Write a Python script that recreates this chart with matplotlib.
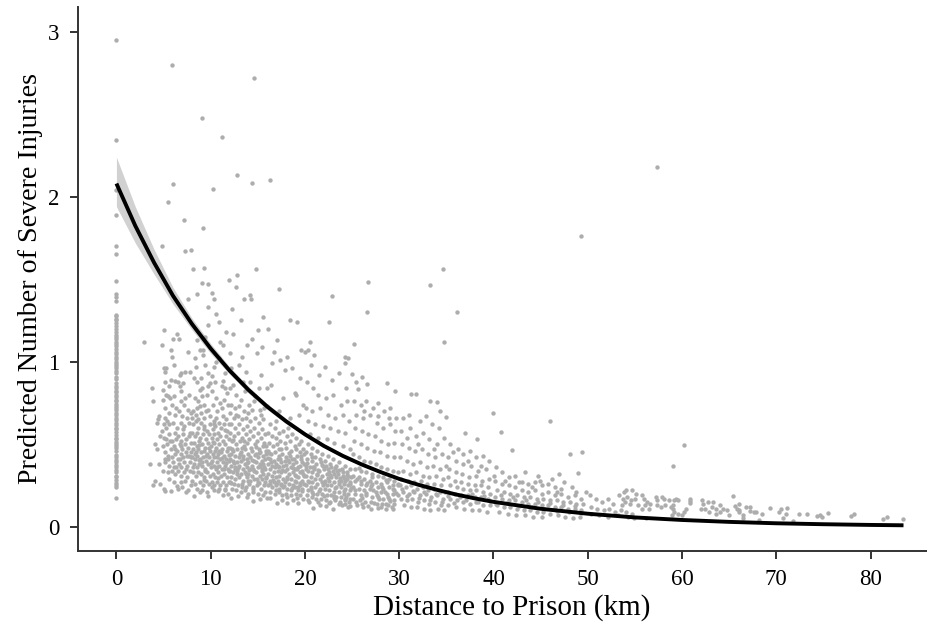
import numpy as np
import matplotlib as mpl
mpl.use('Agg')
import matplotlib.pyplot as plt

plt.rcParams["font.family"] = "Liberation Serif"

# fitted curve and its interval
curve_x = [0, 2, 4, 6, 8, 10, 12, 14, 16, 18, 20, 22, 24, 26, 28, 30, 32, 34, 36, 38, 40, 45, 50, 55, 60, 65, 70, 75, 80, 83.5]
curve_y = [2.08, 1.824, 1.60, 1.40, 1.23, 1.08, .947, .83, .728, .639, .56, .49, .43, .378, .332, .29, .255, .224, .196, .172, .151, .109, .079, .0565, .041, .0295, .021, .0153, .011, .0088]
ci_lo = [1.94, 1.72, 1.53, 1.35, 1.195, 1.05, .925, .81, .71, .625, .55, .48, .42, .37, .325, .285, .25, .22, .192, .168, .148, .106, .077, .055, .04, .029, .02, .015, .01, .008]
ci_hi = [2.24, 1.94, 1.68, 1.45, 1.265, 1.11, .97, .85, .745, .655, .575, .50, .44, .386, .34, .296, .26, .228, .20, .176, .154, .112, .081, .058, .042, .03, .022, .016, .012, .0095]

# points sitting on distance zero
zero_y = [2.95, 2.345, 2.04, 1.89, 1.70, 1.65, 1.49, 1.41, 1.39, 1.37, 1.285, 1.275, 1.26, 1.25, 1.235, 1.215, 1.20,
          1.18, 1.165, 1.15, 1.135, 1.12, 1.11, 1.095, 1.08, 1.06, 1.045, 1.03, 1.015, 1.0, .985, .975, .96, .945,
          .93, .91, .895, .87, .855, .84, .825, .815, .80, .785, .77, .76, .745, .73, .72, .705, .69, .675, .66,
          .645, .63, .615, .60, .59, .575, .555, .54, .53, .515, .50, .49, .475, .46, .435, .42, .405, .39, .375,
          .36, .345, .33, .31, .30, .285, .265, .25, .24, .176]

# scatter by distance band, flat x, y pairs
band_03_08 = [2.96,1.12, 5.0,1.19, 6.4,1.17, 6.0,1.14, 6.6,1.14, 4.8,1.10, 5.8,1.07, 7.6,1.06, 5.9,1.03, 6.1,.98,
    5.0,.96, 5.3,.96, 5.15,.94, 6.8,.93, 7.3,.94, 7.8,.94, 6.7,.92, 5.15,.88, 5.8,.89, 6.2,.885, 6.5,.88, 7.1,.87,
    5.6,.85, 6.7,.85, 6.9,.82, 3.8,.84, 4.9,.83, 3.9,.76, 4.9,.77, 5.3,.80, 5.5,.79, 5.7,.78, 6.1,.79, 7.3,.78,
    7.7,.80, 5.2,.72, 5.9,.74, 6.3,.72, 6.8,.76, 7.2,.74, 7.6,.71, 5.6,.69, 6.2,.68, 6.6,.70, 7.0,.67, 7.5,.66, 7.9,.69,
    4.5,.67, 4.4,.65, 4.3,.63, 5.1,.66, 5.4,.64, 5.0,.62, 5.3,.60, 5.6,.62, 6.0,.63, 6.4,.60, 6.9,.63, 7.2,.61, 7.7,.63,
    4.8,.58, 4.6,.55, 4.1,.50, 4.3,.47, 5.0,.54, 5.3,.53, 5.6,.56, 5.9,.52, 6.2,.57, 6.5,.55, 6.8,.52, 7.1,.56, 7.4,.53, 7.8,.57,
    4.9,.49, 5.4,.50, 5.8,.47, 6.1,.49, 6.4,.46, 6.7,.50, 7.0,.47, 7.3,.50, 7.6,.48, 7.9,.51,
    5.2,.45, 5.5,.43, 5.1,.41, 5.9,.42, 6.2,.44, 6.5,.41, 6.8,.44, 7.1,.42, 7.4,.45, 7.7,.43, 7.9,.45,
    3.56,.38, 4.5,.38, 5.2,.39, 5.6,.37, 6.0,.39, 6.3,.36, 6.6,.38, 6.9,.36, 7.2,.39, 7.5,.37, 7.8,.39,
    4.9,.34, 5.5,.33, 5.9,.34, 6.2,.32, 6.5,.34, 6.9,.31, 7.2,.33, 7.5,.30, 7.8,.34,
    5.6,.29, 4.1,.275, 3.9,.255, 4.6,.26, 5.05,.23, 5.15,.215, 5.8,.215, 6.45,.245, 6.55,.23, 7.3,.275, 7.6,.225, 6.1,.27, 6.8,.27, 7.0,.24, 7.9,.25, 7.4,.21]

band_08_12 = [8.3,1.02, 8.9,1.07, 9.2,1.07, 9.2,1.04, 8.4,.97, 9.4,.98, 10.35,.97, 9.75,.93, 10.1,.915, 8.87,.83, 9.05,.84, 9.75,.85,
    9.93,.87, 10.46,.88, 11.27,.885, 11.17,.85, 11.5,.84, 11.7,.81, 8.2,.9, 8.6,.88, 9.0,.9, 8.3,.78, 8.7,.76, 9.1,.79, 9.6,.8,
    10.1,.82, 10.6,.78, 11.0,.75, 11.4,.77, 8.1,.70, 8.5,.72, 8.9,.73, 9.3,.74, 9.7,.71, 10.2,.74, 10.7,.70, 11.2,.72, 11.8,.74,
    8.0,.66, 8.4,.68, 8.7,.65, 9.0,.69, 9.3,.66, 9.5,.70, 9.9,.67, 10.3,.64, 10.6,.66, 10.9,.63, 11.3,.67, 11.6,.65, 11.9,.62,
    8.1,.62, 8.4,.64, 8.7,.60, 9.0,.63, 9.3,.61, 9.6,.58, 9.9,.62, 10.2,.59, 10.5,.61, 10.8,.57, 11.1,.60, 11.4,.62, 11.7,.58,
    8.0,.57, 8.3,.55, 8.6,.57, 8.9,.54, 9.2,.56, 9.5,.53, 9.8,.56, 10.1,.54, 10.4,.56, 10.7,.53, 11.0,.55, 11.3,.52, 11.6,.55, 11.9,.53,
    8.2,.51, 8.5,.49, 8.8,.52, 9.1,.50, 9.4,.48, 9.7,.51, 10.0,.49, 10.3,.51, 10.6,.48, 10.9,.50, 11.2,.47, 11.5,.50, 11.8,.48,
    8.1,.47, 8.4,.45, 8.7,.47, 9.0,.45, 9.3,.46, 9.6,.44, 9.9,.46, 10.2,.44, 10.5,.46, 10.8,.44, 11.1,.45, 11.4,.43, 11.7,.46,
    8.0,.42, 8.3,.41, 8.6,.43, 8.9,.41, 9.2,.42, 9.5,.40, 9.8,.42, 10.1,.40, 10.4,.42, 10.7,.39, 11.0,.41, 11.3,.39, 11.6,.41, 11.9,.40,
    8.2,.38, 8.5,.36, 8.8,.38, 9.1,.37, 9.4,.35, 9.7,.38, 10.0,.36, 10.3,.37, 10.6,.35, 10.9,.37, 11.2,.35, 11.5,.37, 11.8,.35,
    8.1,.33, 8.4,.31, 8.7,.33, 9.0,.32, 9.3,.30, 9.6,.33, 9.9,.31, 10.2,.32, 10.5,.30, 10.8,.33, 11.1,.31, 11.4,.32, 11.7,.30,
    8.0,.28, 8.3,.26, 8.9,.27, 9.2,.25, 9.5,.28, 9.8,.26, 10.1,.27, 10.4,.25, 10.7,.27, 11.0,.25, 11.3,.27, 11.6,.25, 11.9,.27,
    8.23,.184, 8.87,.208, 9.75,.184, 10.8,.215, 11.35,.194, 8.6,.23, 9.1,.22, 9.6,.21, 10.3,.22, 10.9,.23, 11.5,.22, 11.8,.20]

band_12_16 = [12.05,.84, 12.4,.86, 12.7,.80, 13.2,.77, 13.6,.82, 14.1,.74, 14.6,.76, 15.2,.71, 15.7,.72,
    12.2,.74, 12.6,.72, 13.0,.73, 13.5,.70, 14.0,.69, 14.4,.71, 12.1,.69, 12.5,.66, 12.9,.67, 13.3,.65, 13.7,.66, 14.2,.64, 14.7,.66, 15.1,.63, 15.6,.65,
    12.2,.62, 12.6,.60, 13.0,.62, 13.4,.59, 13.8,.61, 14.2,.58, 14.6,.60, 15.0,.57, 15.4,.59, 15.8,.56,
    12.1,.57, 12.5,.55, 12.9,.57, 13.3,.54, 13.7,.56, 14.1,.53, 14.5,.55, 14.9,.52, 15.3,.54, 15.7,.51,
    12.3,.52, 12.7,.50, 13.1,.52, 13.5,.49, 13.9,.51, 14.3,.48, 14.7,.50, 15.1,.47, 15.5,.49, 15.9,.46,
    12.1,.48, 12.4,.46, 12.8,.47, 13.2,.45, 13.6,.47, 14.0,.44, 14.4,.46, 14.8,.44, 15.2,.45, 15.6,.43, 15.9,.44,
    12.2,.44, 12.6,.43, 13.0,.42, 13.4,.43, 13.8,.41, 14.2,.42, 14.6,.40, 15.0,.42, 15.4,.40, 15.8,.41,
    12.0,.41, 12.4,.40, 12.8,.39, 13.2,.40, 13.6,.38, 14.0,.39, 14.4,.37, 14.8,.39, 15.2,.37, 15.6,.38,
    12.2,.37, 12.6,.36, 13.0,.37, 13.4,.35, 13.8,.36, 14.2,.35, 14.6,.34, 15.0,.36, 15.4,.34, 15.8,.35,
    12.0,.34, 12.4,.33, 12.8,.34, 13.2,.32, 13.6,.33, 14.0,.32, 14.4,.31, 14.8,.33, 15.2,.31, 15.6,.32, 15.9,.30,
    12.2,.30, 12.6,.29, 13.0,.30, 13.4,.28, 13.8,.30, 14.2,.28, 14.6,.29, 15.0,.27, 15.4,.29, 15.8,.27,
    12.1,.27, 12.5,.26, 12.9,.25, 13.3,.26, 13.7,.24, 14.1,.26, 14.5,.24, 14.9,.25, 15.3,.23, 15.7,.25,
    12.3,.23, 12.7,.22, 13.2,.21, 13.6,.22, 14.0,.20, 14.5,.21, 15.0,.20, 15.6,.194, 12.2,.174, 12.94,.184, 14.5,.154, 13.8,.18, 15.2,.17, 16.0,.174]

band_16_20 = [16.3,.62, 16.8,.60, 17.2,.57, 17.7,.58, 18.1,.55, 18.6,.56, 19.1,.54, 19.6,.52, 16.1,.57, 16.5,.55, 16.9,.54, 17.4,.52, 17.9,.51, 18.4,.52, 18.9,.49, 19.4,.50, 19.8,.47,
    16.2,.51, 16.6,.49, 17.0,.50, 17.5,.47, 18.0,.48, 18.5,.46, 19.0,.47, 19.5,.45, 19.9,.44,
    16.1,.46, 16.4,.44, 16.8,.45, 17.2,.43, 17.6,.44, 18.0,.42, 18.4,.43, 18.8,.41, 19.2,.43, 19.6,.41,
    16.3,.41, 16.7,.40, 17.1,.41, 17.5,.39, 17.9,.40, 18.3,.39, 18.7,.38, 19.1,.39, 19.5,.37, 19.9,.38,
    16.1,.38, 16.5,.37, 16.9,.38, 17.3,.36, 17.7,.37, 18.1,.35, 18.5,.36, 18.9,.35, 19.3,.36, 19.7,.34,
    16.3,.35, 16.7,.33, 17.1,.34, 17.5,.33, 17.9,.34, 18.3,.32, 18.7,.33, 19.1,.31, 19.5,.33, 19.9,.31,
    16.1,.32, 16.5,.31, 16.9,.30, 17.3,.31, 17.7,.29, 18.1,.30, 18.5,.29, 18.9,.28, 19.3,.30, 19.7,.28,
    16.3,.28, 16.7,.27, 17.1,.28, 17.5,.26, 17.9,.27, 18.3,.26, 18.7,.25, 19.1,.27, 19.5,.25, 19.9,.26,
    16.1,.25, 16.5,.24, 16.9,.25, 17.3,.23, 17.7,.24, 18.1,.23, 18.5,.22, 18.9,.24, 19.3,.22, 19.7,.23,
    16.3,.21, 16.8,.20, 17.2,.21, 17.6,.19, 18.0,.20, 18.5,.19, 19.0,.20, 19.5,.19, 16.3,.174, 17.0,.144, 18.1,.144, 19.3,.144, 17.6,.16, 18.7,.165, 19.8,.17]

band_20_25 = [20.3,.50, 20.8,.48, 21.3,.46, 21.8,.44, 22.4,.43, 23.0,.41, 23.6,.39, 24.2,.37, 24.8,.35, 20.1,.45, 20.6,.44, 21.1,.42, 21.6,.41, 22.1,.40, 22.7,.38, 23.3,.37, 23.9,.35, 24.5,.33,
    20.2,.41, 20.7,.40, 21.2,.38, 21.7,.39, 22.2,.37, 22.8,.36, 23.4,.34, 24.0,.33, 24.6,.31,
    20.1,.37, 20.5,.36, 21.0,.36, 21.5,.34, 22.0,.35, 22.5,.33, 23.0,.34, 23.5,.32, 24.0,.31, 24.5,.29, 24.9,.30,
    20.3,.34, 20.8,.33, 21.3,.32, 21.8,.31, 22.3,.32, 22.8,.30, 23.3,.30, 23.8,.28, 24.3,.28, 24.8,.27,
    20.1,.31, 20.6,.30, 21.1,.29, 21.6,.29, 22.1,.28, 22.6,.28, 23.1,.27, 23.6,.26, 24.1,.26, 24.6,.25,
    20.3,.28, 20.8,.27, 21.3,.26, 21.8,.27, 22.3,.25, 22.8,.25, 23.3,.24, 23.8,.24, 24.3,.23, 24.8,.22,
    20.1,.25, 20.6,.24, 21.1,.24, 21.6,.23, 22.1,.23, 22.6,.22, 23.1,.21, 23.6,.21, 24.1,.20, 24.6,.20,
    20.3,.22, 20.8,.21, 21.3,.20, 21.8,.20, 22.3,.19, 22.8,.19, 23.3,.18, 23.8,.18, 24.3,.17, 24.8,.17,
    20.2,.19, 20.7,.18, 21.2,.17, 21.7,.17, 22.2,.16, 22.7,.15, 23.2,.16, 23.7,.15, 24.2,.14, 24.7,.15,
    20.9,.113, 22.95,.108, 21.6,.134, 23.9,.13, 20.4,.15, 22.2,.125, 24.6,.12,
    # above the curve
    20.3,1.07, 21.0,1.04, 20.0,1.06, 20.6,.98, 21.5,.92, 22.1,.97, 22.9,.89, 23.6,.93, 24.4,.84, 20.2,.88, 20.9,.84, 21.4,.80, 22.2,.78, 23.0,.80, 23.8,.74, 24.5,.76,
    20.1,.72, 20.8,.70, 21.6,.72, 22.4,.68, 23.2,.66, 24.0,.68, 24.7,.64, 20.3,.64, 21.1,.62, 21.9,.61, 22.7,.60, 23.5,.58, 24.3,.57, 20.5,.56, 21.4,.54, 22.3,.53, 23.1,.51, 24.0,.49, 24.8,.47]

band_25_30 = [25.2,1.107, 24.6,1.022, 24.2,1.028, 24.2,.992, 25.0,.923, 26.1,.907, 25.4,.879, 26.6,.867, 25.6,.836, 28.7,.87, 29.6,.824,
    25.2,.76, 25.9,.74, 26.5,.76, 27.2,.72, 27.8,.75, 28.4,.70, 29.0,.72, 25.4,.68, 26.2,.66, 26.9,.68, 27.6,.63, 28.3,.60, 29.0,.62, 29.6,.58,
    25.3,.60, 26.0,.58, 26.7,.56, 27.4,.55, 28.1,.52, 28.8,.50, 29.5,.51, 25.2,.52, 25.9,.50, 26.6,.48, 27.3,.46, 28.0,.45, 28.7,.43, 29.4,.42,
    25.1,.44, 25.7,.42, 26.3,.40, 26.9,.39, 27.5,.38, 28.1,.36, 28.7,.35, 29.3,.34, 29.9,.33,
    25.3,.35, 25.9,.34, 26.5,.33, 27.1,.32, 27.7,.31, 28.3,.30, 28.9,.29, 29.5,.28, 25.1,.31, 25.7,.30, 26.3,.29, 26.9,.28, 27.5,.27, 28.1,.26, 28.7,.27, 29.3,.25, 29.9,.25,
    25.3,.28, 25.9,.26, 26.5,.25, 27.1,.26, 27.7,.24, 28.3,.23, 28.9,.24, 29.5,.22, 25.1,.24, 25.7,.23, 26.3,.22, 26.9,.23, 27.5,.21, 28.1,.21, 28.7,.20, 29.3,.20, 29.9,.19,
    25.3,.20, 25.9,.19, 26.5,.19, 27.1,.18, 27.7,.18, 28.3,.17, 28.9,.17, 29.5,.16, 25.1,.17, 25.8,.16, 26.4,.15, 27.0,.15, 27.6,.14, 28.2,.14, 28.8,.13, 29.4,.14,
    25.5,.13, 26.2,.12, 27.0,.11, 27.8,.115, 28.6,.105, 29.3,.11]

band_30_35 = [31.3,.806, 31.8,.806, 33.3,.76, 34.05,.756, 34.3,.703, 35.0,.668, 30.4,.66, 31.0,.68, 32.2,.64, 32.8,.67, 33.5,.62, 34.2,.60, 30.2,.58, 31.1,.60, 31.8,.55, 32.5,.57, 33.2,.53, 34.0,.50, 34.7,.54,
    30.3,.50, 31.0,.48, 31.7,.46, 32.4,.47, 33.1,.44, 33.8,.42, 34.5,.44, 30.1,.42, 30.8,.40, 31.5,.38, 32.2,.39, 32.9,.36, 33.6,.37, 34.3,.35, 35.0,.37,
    30.4,.34, 31.1,.32, 31.8,.33, 32.5,.31, 33.2,.30, 33.9,.31, 34.6,.29, 30.2,.29, 30.9,.28, 31.6,.27, 32.3,.28, 33.0,.26, 33.7,.26, 34.4,.25,
    30.1,.25, 30.7,.24, 31.3,.25, 31.9,.23, 32.5,.24, 33.1,.22, 33.7,.23, 34.3,.21, 34.9,.21,
    30.4,.21, 31.0,.20, 31.6,.21, 32.2,.19, 32.8,.20, 33.4,.18, 34.0,.19, 34.6,.17, 30.2,.17, 30.8,.16, 31.4,.17, 32.0,.15, 32.6,.16, 33.2,.14, 33.8,.15, 34.4,.13,
    30.5,.13, 31.2,.12, 31.9,.12, 32.6,.11, 33.3,.10, 34.1,.11, 34.8,.10]

band_35_40 = [37.0,.566, 38.3,.533, 35.4,.50, 36.2,.47, 36.8,.44, 37.5,.46, 38.2,.42, 38.9,.43, 39.5,.40, 35.2,.42, 36.0,.40, 36.8,.38, 37.6,.37, 38.4,.34, 39.2,.35,
    35.3,.35, 36.0,.33, 36.7,.32, 37.4,.30, 38.1,.31, 38.8,.28, 39.5,.29, 35.2,.30, 35.9,.28, 36.6,.27, 37.3,.26, 38.0,.25, 38.7,.25, 39.4,.24,
    35.4,.25, 36.1,.24, 36.8,.23, 37.5,.22, 38.2,.22, 38.9,.21, 39.6,.20, 35.2,.21, 35.9,.20, 36.6,.19, 37.3,.19, 38.0,.18, 38.7,.18, 39.4,.17,
    35.4,.17, 36.1,.16, 36.8,.15, 37.5,.14, 38.2,.15, 38.9,.13, 39.6,.13, 35.2,.13, 36.0,.12, 36.9,.11, 37.7,.10, 38.5,.10, 39.3,.09]

band_40_50 = [39.9,.687, 46.0,.638, 40.8,.576, 42.0,.467, 48.1,.438, 49.4,.453, 49.0,.325, 47.0,.321, 40.3,.36, 40.9,.33, 41.6,.30, 42.3,.31, 43.0,.27, 43.7,.26, 44.4,.27, 45.1,.25, 45.8,.26, 46.5,.24, 47.2,.23,
    40.2,.28, 40.9,.26, 41.6,.25, 42.3,.24, 43.0,.22, 43.7,.21, 44.4,.22, 45.1,.20, 45.8,.21, 46.5,.19, 47.2,.20, 47.9,.18, 48.6,.19, 49.3,.17,
    40.4,.22, 41.1,.21, 41.8,.20, 42.5,.19, 43.2,.18, 43.9,.18, 44.6,.17, 45.3,.17, 46.0,.16, 46.7,.16, 47.4,.15, 48.1,.15, 48.8,.14, 49.5,.14,
    40.2,.18, 40.9,.17, 41.6,.16, 42.3,.16, 43.0,.15, 43.7,.14, 44.4,.14, 45.1,.13, 45.8,.13, 46.5,.12, 47.2,.12, 47.9,.11, 48.6,.11, 49.3,.10,
    40.4,.13, 41.1,.12, 41.8,.12, 42.5,.11, 43.2,.10, 43.9,.10, 44.6,.09, 45.3,.09, 46.0,.08, 46.8,.07, 47.6,.06, 48.4,.05, 49.2,.06,
    40.6,.09, 41.5,.08, 42.4,.07, 43.3,.07, 44.2,.06, 45.2,.06, 49.8,.21, 48.3,.24, 47.5,.27, 46.2,.29, 44.7,.31]

band_50_60 = [50.2,.19, 50.9,.17, 51.5,.15, 52.1,.17, 52.7,.14, 53.3,.19, 53.9,.21, 54.1,.22, 54.7,.22, 55.1,.20, 53.7,.17, 54.2,.18, 54.6,.16, 55.0,.17, 54.0,.15, 54.5,.14, 53.6,.13,
    50.4,.12, 51.0,.11, 51.7,.10, 52.3,.11, 52.9,.09, 53.5,.10, 54.1,.09, 54.7,.08, 50.3,.08, 51.2,.07, 52.2,.06, 53.2,.07, 54.3,.06, 55.3,.13, 55.8,.19, 56.0,.17, 56.3,.15, 56.6,.14, 56.1,.13, 55.8,.11, 56.5,.11,
    57.2,.18, 57.3,.16, 58.1,.17, 57.9,.18, 57.3,.13, 57.8,.12, 58.2,.13, 58.8,.12, 59.0,.13, 59.0,.11, 59.4,.17, 58.6,.16, 59.1,.165, 59.6,.165, 59.2,.09, 59.6,.08, 58.9,.07, 60.0,.07, 56.2,.05, 54.9,.05]

band_60_84 = [60.2,.493, 59.0,.37, 60.8,.155, 60.8,.17, 60.9,.145, 60.4,.11, 60.2,.09, 62.1,.16, 62.2,.14, 62.8,.15, 63.3,.15, 62.0,.11, 62.4,.11, 62.9,.09, 63.2,.12, 63.6,.08, 64.0,.09, 63.6,.11,
    64.0,.13, 64.4,.105, 64.8,.10, 65.0,.07, 65.4,.184, 65.6,.125, 65.8,.105, 66.0,.09, 66.1,.10, 66.1,.14, 66.5,.07, 66.5,.05, 66.8,.117, 67.2,.117, 67.2,.095, 67.6,.09, 67.9,.09, 68.2,.04, 68.5,.08,
    69.3,.113, 70.3,.09, 70.5,.105, 70.7,.05, 71.0,.079, 71.1,.113, 71.8,.032, 72.4,.077, 73.3,.079, 74.3,.067, 74.6,.072, 74.9,.062, 75.5,.085, 77.9,.067, 78.2,.075, 81.3,.048, 81.7,.062, 83.5,.048]

# more of the thick cloud under the curve
core_extra = [8.37,.443, 9.13,.392, 9.86,.478, 10.64,.364, 11.22,.417, 11.93,.338, 12.47,.385, 13.11,.438, 13.73,.318, 14.36,.403, 14.92,.291, 15.48,.352, 16.06,.417, 16.62,.283, 17.14,.366,
    17.83,.244, 18.22,.405, 18.91,.312, 19.44,.267, 20.06,.348, 20.67,.229, 21.23,.315, 21.88,.253, 22.41,.298, 23.07,.186, 23.62,.277, 24.19,.215, 24.77,.262, 25.36,.222, 25.94,.278, 26.48,.205,
    27.03,.246, 27.66,.195, 28.21,.238, 28.84,.182, 29.37,.226, 8.73,.496, 9.48,.427, 10.27,.512, 10.93,.458, 11.64,.386, 12.31,.472, 12.88,.358, 13.46,.412, 14.07,.346, 14.68,.433, 15.27,.382,
    15.83,.298, 16.44,.392, 17.02,.265, 17.58,.346, 18.13,.287, 18.76,.358, 19.27,.241, 19.82,.322, 20.43,.272, 20.97,.347, 21.54,.216, 22.06,.264, 22.63,.312, 23.18,.232, 23.74,.298, 24.33,.183,
    24.91,.236, 25.47,.287, 26.02,.172, 26.61,.268, 27.24,.221, 27.81,.169, 28.47,.212, 29.04,.156, 29.68,.204, 30.27,.228, 30.84,.186, 31.42,.219, 32.06,.172, 32.67,.208, 33.28,.161, 33.94,.198,
    34.52,.152, 35.13,.187, 35.77,.142, 36.41,.178, 37.06,.165, 37.68,.198, 38.33,.148, 38.96,.185, 39.58,.156, 40.22,.136, 40.83,.192, 41.47,.143, 42.11,.178, 42.76,.128, 43.42,.164, 44.07,.118,
    44.73,.152, 45.38,.108, 46.04,.143, 46.71,.098, 47.36,.132, 48.02,.09, 48.67,.125, 49.31,.082, 9.33,.286, 10.12,.243, 10.77,.296, 11.48,.228, 12.19,.263, 12.76,.317, 13.37,.241, 13.95,.276,
    14.54,.226, 15.13,.268, 15.72,.213, 16.33,.262, 16.91,.224, 17.47,.252, 18.06,.181, 18.63,.232, 19.16,.176, 19.73,.214, 20.28,.163, 20.86,.198, 21.42,.152, 21.97,.187, 22.53,.142, 23.11,.173,
    23.66,.137, 24.27,.162, 24.83,.128, 25.42,.152, 26.07,.136, 26.72,.128, 27.37,.142, 28.03,.118, 28.62,.139, 29.21,.122, 5.42,.41, 6.07,.36, 6.73,.41, 7.34,.35, 7.91,.42, 6.24,.47, 6.88,.49,
    7.46,.43, 5.73,.52, 6.36,.53, 7.02,.59, 7.67,.55, 8.13,.36, 8.76,.405, 9.41,.335, 10.06,.388, 10.72,.425, 11.38,.352, 11.97,.432, 12.63,.347, 13.28,.476, 13.86,.388, 14.47,.352, 15.08,.446,
    15.66,.362, 16.23,.448, 16.84,.362, 17.39,.408, 17.98,.372, 18.58,.408, 19.14,.352, 19.67,.392, 20.24,.388, 20.82,.364, 21.37,.344, 21.93,.366, 22.48,.352, 23.04,.318, 23.57,.344, 24.12,.296,
    9.27,.594, 10.38,.622, 11.53,.588, 12.42,.528, 13.57,.522, 14.83,.486, 15.92,.492, 17.26,.474, 18.34,.448, 19.53,.426, 20.71,.424, 21.84,.376, 23.19,.356, 24.44,.312, 25.73,.358, 27.16,.302, 28.58,.286, 29.83,.262]

# stragglers above the cloud
upper_extra = [8.6,1.13, 9.7,1.33, 10.6,1.29, 11.3,1.10, 12.4,1.17, 13.3,1.03, 14.4,1.14, 15.4,1.09, 16.5,.99, 17.4,1.01, 18.6,.96, 19.6,1.07, 10.9,1.02, 12.2,.96, 13.7,.94, 15.1,.84, 16.4,.86, 17.7,.78, 18.9,.81, 19.8,.74,
    13.4,.88, 14.7,.79, 16.0,.73, 17.2,.70, 18.4,.66, 19.4,.68, 12.7,.68, 16.9,.64, 18.2,.60, 15.3,.68, 26.3,.70, 27.7,.67, 28.9,.66, 29.7,.66, 30.8,.54, 32.0,.50, 33.7,.47, 35.7,.45, 37.3,.40, 38.7,.37, 40.1,.31, 41.2,.28,
    42.7,.27, 44.1,.24, 46.7,.21, 48.8,.21, 43.3,.33, 44.9,.28]

# high outliers
out_x = [5.89, 14.56, 9.08, 11.17, 12.76, 16.33, 14.42, 6.0, 10.24, 5.5, 7.17, 9.2, 4.86, 7.3, 7.9, 8.09, 9.32, 14.8, 9.08, 9.75, 11.9, 12.76, 12.72, 17.3, 8.55, 10.1, 14.17, 10.3, 7.6, 13.5, 14.3,
    57.4, 49.3, 33.3, 34.6, 36.1, 26.7, 26.6, 22.9, 22.5, 34.7, 15.6, 13.2, 16.1, 18.4, 19.2, 20.5, 12.3, 10.9, 15.0, 17.0, 11.6, 13.9, 9.7, 11.0, 12.1, 14.9, 16.7, 18.1, 9.4, 10.6, 13.0, 15.3, 17.9, 19.5, 11.5, 14.2, 16.0, 19.0]
out_y = [2.80, 2.72, 2.48, 2.364, 2.13, 2.10, 2.083, 2.08, 2.044, 1.968, 1.862, 1.81, 1.703, 1.67, 1.677, 1.56, 1.57, 1.56, 1.48, 1.473, 1.495, 1.523, 1.456, 1.438, 1.412, 1.416, 1.406, 1.38, 1.378, 1.38, 1.378,
    2.18, 1.76, 1.467, 1.564, 1.30, 1.485, 1.30, 1.40, 1.243, 1.12, 1.27, 1.25, 1.20, 1.25, 1.24, 1.12, 1.32, 1.24, 1.19, 1.13, 1.18, 1.10, 1.22, 1.12, 1.05, 1.05, 1.06, 1.03, 1.15, 1.00, .98, .92, .95, .90, .93, .88, .84, .80]

x_ticks = [0, 10, 20, 30, 40, 50, 60, 70, 80]
y_ticks = [0, 1, 2, 3]

bands = [band_03_08, band_08_12, band_12_16, band_16_20, band_20_25, band_25_30, band_30_35, band_35_40, band_40_50, band_50_60, band_60_84, core_extra, upper_extra]
pairs = np.array(sum(bands, [])).reshape(-1, 2)

fig = plt.figure(figsize=(9.28, 6.26), dpi=100)
ax = fig.add_axes([77.5/928, 1 - 551/626, (928 - 77.5)/928, (551 - 7)/626])

dot = '#adadad'
ax.scatter(np.zeros(len(zero_y)), zero_y, s=10, c=dot, linewidths=0, zorder=2)
ax.scatter(pairs[:, 0], pairs[:, 1], s=10, c=dot, linewidths=0, zorder=2)
ax.scatter(out_x, out_y, s=10, c=dot, linewidths=0, zorder=2)
ax.fill_between(curve_x, ci_lo, ci_hi, color='#999999', alpha=.45, linewidth=0, zorder=3)
ax.plot(curve_x, curve_y, color='black', lw=2.8, solid_capstyle='butt', zorder=4)

ax.set_xlim(-4.13, 86.1)
ax.set_ylim(-0.147, 3.15)
ax.set_xticks(x_ticks)
ax.set_yticks(y_ticks)
ax.tick_params(length=6, width=1.4, color='#333333', labelsize=16.5, labelcolor='black', pad=7)
for side in ['top', 'right']:
    ax.spines[side].set_visible(False)
for side in ['left', 'bottom']:
    ax.spines[side].set_linewidth(1.4)
    ax.spines[side].set_color('#333333')

ax.set_xlabel('Distance to Prison (km)', fontsize=21, labelpad=3, x=.51)
ax.set_ylabel('Predicted Number of Severe Injuries', fontsize=20.2, labelpad=4)

plt.savefig('out.png', dpi=100)
